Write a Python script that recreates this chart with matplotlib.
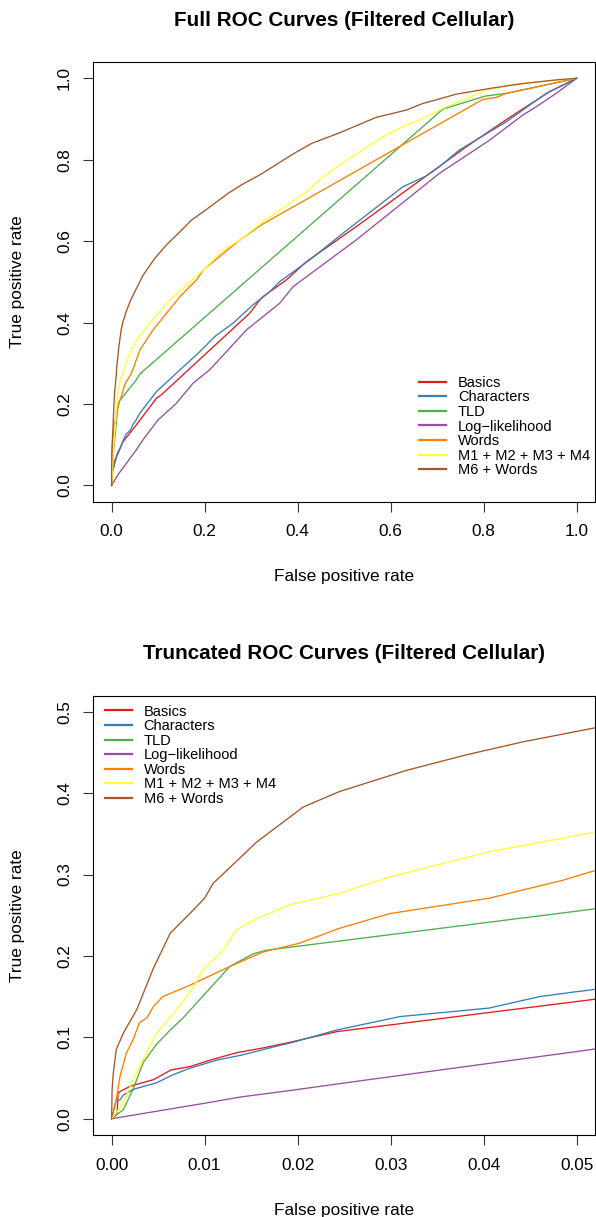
import matplotlib
matplotlib.use("Agg")
import matplotlib.pyplot as plt

plt.rcParams['font.family'] = ['Liberation Sans', 'DejaVu Sans']

# ---------------- data ----------------
labels = ["Basics", "Characters", "TLD", "Log\u2212likelihood", "Words",
          "M1 + M2 + M3 + M4", "M6 + Words"]
colors = ["#E41A1C", "#377EB8", "#4DAF4A", "#984EA3", "#FF7F00", "#FFFF33", "#A65628"]

basics_fpr = [0, 0.0006, 0.0007, 0.002, 0.0045, 0.0064, 0.0084, 0.0106, 0.0134, 0.0163, 0.0192,
              0.0242, 0.0514, 0.0967, 0.107, 0.297, 0.3186, 0.326, 0.376, 0.419, 0.526, 0.669,
              0.763, 0.856, 0.9415, 1.0]
basics_tpr = [0, 0.008, 0.032, 0.040, 0.048, 0.060, 0.064, 0.072, 0.081, 0.087, 0.094,
              0.107, 0.146, 0.2145, 0.2226, 0.423, 0.4557, 0.464, 0.505, 0.5497, 0.6356, 0.754,
              0.832, 0.904, 0.967, 1.0]

chars_fpr = [0, 0.0002, 0.0005, 0.0009, 0.00125, 0.0023, 0.0048, 0.0066, 0.0084, 0.0113, 0.0141,
             0.0177, 0.0192, 0.0242, 0.031, 0.037, 0.0406, 0.046, 0.0499, 0.0514, 0.061, 0.0967,
             0.1396, 0.19, 0.222, 0.261, 0.304, 0.340, 0.3616, 0.426, 0.4975, 0.6264, 0.6767,
             0.705, 0.748, 0.8485, 0.9345, 1.0]
chars_tpr = [0, 0.010, 0.023, 0.023, 0.029, 0.036, 0.044, 0.054, 0.062, 0.072, 0.0785,
             0.089, 0.093, 0.109, 0.1255, 0.132, 0.136, 0.150, 0.156, 0.158, 0.178, 0.2307,
             0.276, 0.329, 0.366, 0.3985, 0.4435, 0.476, 0.5006, 0.554, 0.6194, 0.7337, 0.760,
             0.783, 0.824, 0.893, 0.963, 1.0]

tld_fpr = [0, 0.00125, 0.0023, 0.0034, 0.0048, 0.0063, 0.0077, 0.0127, 0.0152, 0.0166, 0.0514,
           0.061, 0.712, 0.802, 0.849, 1.0]
tld_tpr = [0, 0.011, 0.036, 0.069, 0.091, 0.109, 0.124, 0.187, 0.2025, 0.207, 0.257,
           0.274, 0.924, 0.956, 0.963, 1.0]

loglik_fpr = [0, 0.01, 0.0138, 0.0192, 0.0281, 0.0514, 0.068, 0.100, 0.1396, 0.175, 0.211,
              0.2505, 0.290, 0.3616, 0.390, 0.526, 0.705, 0.8127, 0.884, 0.913, 0.956, 1.0]
loglik_tpr = [0, 0.019, 0.0266, 0.0347, 0.0487, 0.0847, 0.113, 0.161, 0.202, 0.251, 0.284,
              0.333, 0.382, 0.4476, 0.488, 0.603, 0.7666, 0.848, 0.9097, 0.930, 0.963, 1.0]

words_fpr = [0, 0.0005, 0.0009, 0.0016, 0.0023, 0.003, 0.0038, 0.0045, 0.0055, 0.0084, 0.0127,
             0.0163, 0.0202, 0.0245, 0.0299, 0.0406, 0.0485, 0.0514, 0.061, 0.089, 0.118, 0.147,
             0.1826, 0.197, 0.24, 0.276, 0.322, 0.798, 0.827, 0.849, 1.0]
words_tpr = [0, 0.023, 0.052, 0.081, 0.097, 0.118, 0.124, 0.138, 0.150, 0.164, 0.187,
             0.205, 0.2156, 0.234, 0.252, 0.271, 0.293, 0.303, 0.333, 0.382, 0.423, 0.464,
             0.505, 0.529, 0.570, 0.603, 0.640, 0.948, 0.953, 0.963, 1.0]

m1234_fpr = [0, 0.00125, 0.0023, 0.003, 0.0039, 0.0048, 0.0059, 0.007, 0.0079, 0.0088, 0.0098,
             0.012, 0.0134, 0.0152, 0.0192, 0.0245, 0.0299, 0.0406, 0.0514, 0.054, 0.082, 0.118,
             0.161, 0.197, 0.240, 0.276, 0.326, 0.383, 0.419, 0.4546, 0.505, 0.540, 0.583,
             0.626, 0.677, 0.712, 0.755, 0.806, 0.870, 0.9415, 1.0]
m1234_tpr = [0, 0.019, 0.048, 0.064, 0.085, 0.105, 0.119, 0.134, 0.148, 0.162, 0.183,
             0.207, 0.232, 0.244, 0.263, 0.277, 0.297, 0.328, 0.351, 0.3575, 0.3985, 0.4475,
             0.4925, 0.529, 0.578, 0.603, 0.648, 0.693, 0.7215, 0.758, 0.799, 0.824, 0.856,
             0.881, 0.9055, 0.926, 0.9465, 0.971, 0.986, 0.994, 1.0]

m6w_fpr = [0, 0.00005, 0.00018, 0.0005, 0.00125, 0.0027, 0.0045, 0.0063, 0.0084, 0.010, 0.0109,
           0.0156, 0.0206, 0.0245, 0.0317, 0.0381, 0.0442, 0.0514, 0.068, 0.093, 0.118, 0.147,
           0.172, 0.197, 0.2505, 0.279, 0.322, 0.347, 0.390, 0.430, 0.490, 0.569, 0.634,
           0.669, 0.741, 0.813, 0.884, 0.956, 1.0]
m6w_tpr = [0, 0.035, 0.056, 0.085, 0.105, 0.134, 0.185, 0.228, 0.252, 0.271, 0.289,
           0.340, 0.383, 0.402, 0.428, 0.447, 0.463, 0.479, 0.517, 0.558, 0.591, 0.623,
           0.652, 0.672, 0.7175, 0.738, 0.765, 0.783, 0.814, 0.840, 0.866, 0.904, 0.922,
           0.938, 0.961, 0.975, 0.987, 0.996, 1.0]

series_fpr = [basics_fpr, chars_fpr, tld_fpr, loglik_fpr, words_fpr, m1234_fpr, m6w_fpr]
series_tpr = [basics_tpr, chars_tpr, tld_tpr, loglik_tpr, words_tpr, m1234_tpr, m6w_tpr]

full_xticks = [0.0, 0.2, 0.4, 0.6, 0.8, 1.0]
full_yticks = [0.0, 0.2, 0.4, 0.6, 0.8, 1.0]
trunc_xticks = [0.00, 0.01, 0.02, 0.03, 0.04, 0.05]
trunc_yticks = [0.0, 0.1, 0.2, 0.3, 0.4, 0.5]

# ---------------- layout ----------------
W, H = 596, 1217
fig = plt.figure(figsize=(W / 100, H / 100), dpi=100)


def rect(l, t, r, b):
    return [l / W, 1 - b / H, (r - l) / W, (b - t) / H]


ax1 = fig.add_axes(rect(93, 62, 595.3, 501.7))
ax2 = fig.add_axes(rect(93, 695.5, 595.3, 1135))

TICK_FS = 12.4
TITLE_FS = 14.9
LEG_FS = 10.5


def style(ax, xticks, yticks, xfmt, yfmt, xlim, ylim, title, ax_h):
    for fpr, tpr, c, lab in zip(series_fpr, series_tpr, colors, labels):
        ax.plot(fpr, tpr, color=c, lw=0.95, label=lab)
    ax.set_xlim(*xlim)
    ax.set_ylim(*ylim)
    ax.set_xticks(xticks)
    ax.set_yticks(yticks)
    ax.set_xticklabels([xfmt.format(v) for v in xticks])
    ax.set_yticklabels([yfmt.format(v) for v in yticks], rotation=90, va='center')
    ax.tick_params(axis='both', direction='out', length=7.2, width=0.8,
                   labelsize=TICK_FS, color='#333333')
    ax.tick_params(axis='x', pad=9)
    ax.tick_params(axis='y', pad=8)
    for s in ax.spines.values():
        s.set_linewidth(0.8)
        s.set_color('black')
    ax.set_xlabel("False positive rate", fontsize=TICK_FS)
    ax.set_ylabel("True positive rate", fontsize=TICK_FS)
    ax.xaxis.label.set_va('center')
    ax.yaxis.label.set_va('center')
    ax.xaxis.set_label_coords(0.5, -75 / ax_h)
    ax.yaxis.set_label_coords(-(93 - 18) / 502.3, 0.5)
    ax.set_title(title, fontsize=TITLE_FS, fontweight='bold', y=1 + 42 / ax_h,
                 va='center', pad=0)


style(ax1, full_xticks, full_yticks, "{:.1f}", "{:.1f}", (-0.04, 1.04), (-0.04, 1.04),
      "Full ROC Curves (Filtered Cellular)", 439.7)
style(ax2, trunc_xticks, trunc_yticks, "{:.2f}", "{:.1f}", (-0.002, 0.052), (-0.02, 0.52),
      "Truncated ROC Curves (Filtered Cellular)", 439.5)

leg_kw = dict(loc='upper left', frameon=False, fontsize=LEG_FS, borderpad=0, borderaxespad=0,
              handlelength=1.85, handletextpad=0.8, labelspacing=0.04,
              bbox_transform=fig.transFigure)
l1 = ax1.legend(bbox_to_anchor=(419.3 / W, 1 - 375.8 / H), **leg_kw)
l2 = ax2.legend(bbox_to_anchor=(105 / W, 1 - 704.5 / H), **leg_kw)
for lg in (l1, l2):
    for h in lg.legend_handles:
        h.set_linewidth(1.6)

fig.savefig("out.png", dpi=100)
